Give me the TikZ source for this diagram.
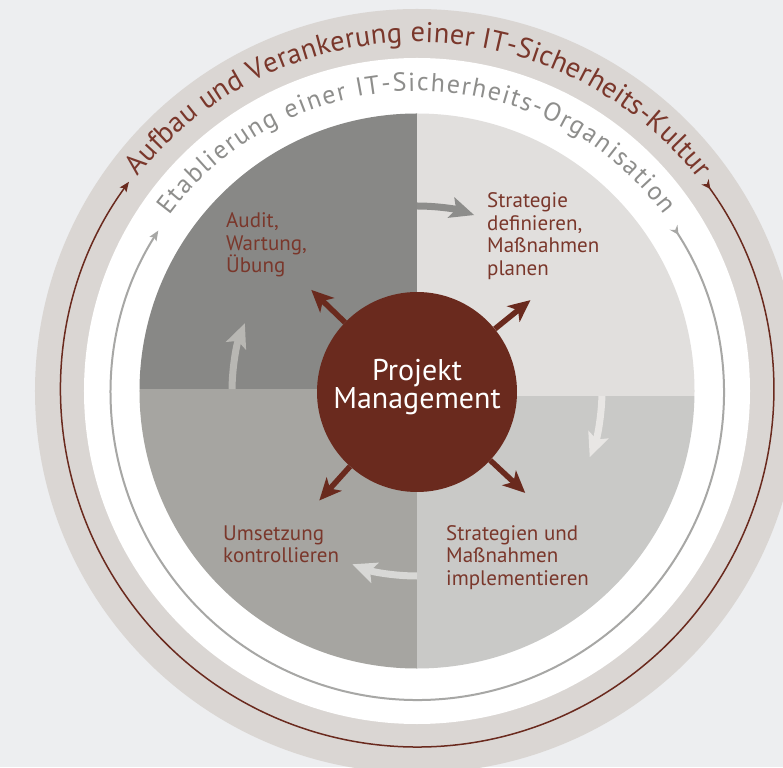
\documentclass[tikz,border=0pt]{standalone}
\usepackage{fontspec}
\setmainfont{PT Sans}
\usetikzlibrary{arrows.meta,decorations.text}
\definecolor{bg}{HTML}{EDEEF0}
\definecolor{ring}{HTML}{DAD6D3}
\definecolor{qtl}{HTML}{888886}
\definecolor{qtr}{HTML}{E1DFDD}
\definecolor{qbl}{HTML}{A6A5A1}
\definecolor{qbr}{HTML}{C9C9C7}
\definecolor{pmred}{HTML}{6A2A1E}
\definecolor{labred}{HTML}{7A372B}
\definecolor{linegray}{HTML}{A7A7A5}
\definecolor{textgray}{HTML}{8E8E8C}
\definecolor{atop}{HTML}{8D8D8B}
\definecolor{aright}{HTML}{E8E6E4}
\definecolor{abottom}{HTML}{D8D8D6}
\definecolor{aleft}{HTML}{B8B7B3}
\begin{document}
\begin{tikzpicture}[x=1pt,y=1pt,
  quadlabel/.style={anchor=base west, align=left, inner sep=0pt, text=labred,
    font=\fontsize{21}{22.5}\selectfont},
  cyclearrow/.style={line width=7pt, -{Stealth[length=24pt,width=21pt,inset=5pt]}},
  outarrow/.style={draw=pmred, line width=5.5pt, -{Stealth[length=22pt,width=20pt,inset=6pt]}},
  ringtext/.style={decorate, decoration={text along path, text align={fit to path}}},
]
\useasboundingbox (-417,-376) rectangle (366,391);
\fill[bg] (-417,-376) rectangle (366,391);

% rings
\begin{scope}
  \clip (-417,-376) rectangle (366,391);
  \fill[ring] (0,0) circle (382);
\end{scope}
\fill[white] (0,0) circle (333);

% the four phases
\begin{scope}
  \clip (0,0) circle (277.5);
  \fill[qtl] (-280,2) rectangle (0,280);
  \fill[qbl] (-280,2) rectangle (0,-280);
  \fill[qtr] (0,-5) rectangle (280,280);
  \fill[qbr] (0,-5) rectangle (280,-280);
\end{scope}

% circular arrows in the rings
\draw[pmred, line width=1.5pt,
  {Stealth[reversed,length=9pt,width=9pt,inset=3pt]}-{Stealth[length=10pt,width=8pt,inset=2pt]}]
  (36:356) arc[start angle=36, end angle=-216, radius=356];
\draw[linegray, line width=2pt,
  {Stealth[reversed,length=9pt,width=9pt,inset=3pt]}-{Stealth[length=10pt,width=8pt,inset=2pt]}]
  ([shift={(0,-3)}]33:306) arc[start angle=33, end angle=-212.3, radius=306];

% ring captions
\path[ringtext, decoration={text color=labred,
  text={|\fontsize{28.5}{28.5}\selectfont|Aufbau und Verankerung einer IT-Sicherheits-Kultur}}]
  ([shift={(0,-9)}]141.3:358) arc[start angle=141.3, end angle=38.2, radius=358];
\path[ringtext, decoration={text color=textgray,
  text={|\fontsize{26}{26}\selectfont|Etablierung einer IT-Sicherheits-Organisation}}]
  ([shift={(0,-9)}]143.3:309) arc[start angle=143.3, end angle=36.8, radius=309];

% cycle arrows between the phases
\draw[cyclearrow, draw=atop, fill=atop] (90:185) arc[start angle=90, end angle=72, radius=185];
\draw[cyclearrow, draw=aright, fill=aright] (-1.5:185) arc[start angle=-1.5, end angle=-21, radius=185];
\draw[cyclearrow, draw=abottom, fill=abottom] (-90:185) arc[start angle=-90, end angle=-110.5, radius=185];
\draw[cyclearrow, draw=aleft, fill=aleft] (179.4:185) arc[start angle=179.4, end angle=158.5, radius=185];

% project management hub
\node[circle, fill=pmred, minimum size=200pt, inner sep=0pt] (pm) at (0,-1) {};
\node[text=white, align=center, inner sep=0pt, font=\fontsize{30}{28}\selectfont] (pmtext) at (0,4) {Projekt\\Management};

\path (pm.center) ++(136:147) coordinate (tl);
\path (pm.center) ++(39:146) coordinate (tr);
\path (pm.center) ++(-132:146) coordinate (bl);
\path (pm.center) ++(-43:148) coordinate (br);
\draw[outarrow] (pm) -- (tl);
\draw[outarrow] (pm) -- (tr);
\draw[outarrow] (pm) -- (bl);
\draw[outarrow] (pm) -- (br);

% phase labels (anchored at the baseline of the last line)
\node[quadlabel] (audit) at (-191,118) {Audit,\\Wartung,\\Übung};
\node[quadlabel] (strat) at (70,115.5) {Strategie\\definieren,\\Maßnahmen\\planen};
\node[quadlabel] (umsetz) at (-194,-171.5) {Umsetzung\\kontrollieren};
\node[quadlabel] (impl) at (29,-194) {Strategien und\\Maßnahmen\\implementieren};
\end{tikzpicture}
\end{document}
